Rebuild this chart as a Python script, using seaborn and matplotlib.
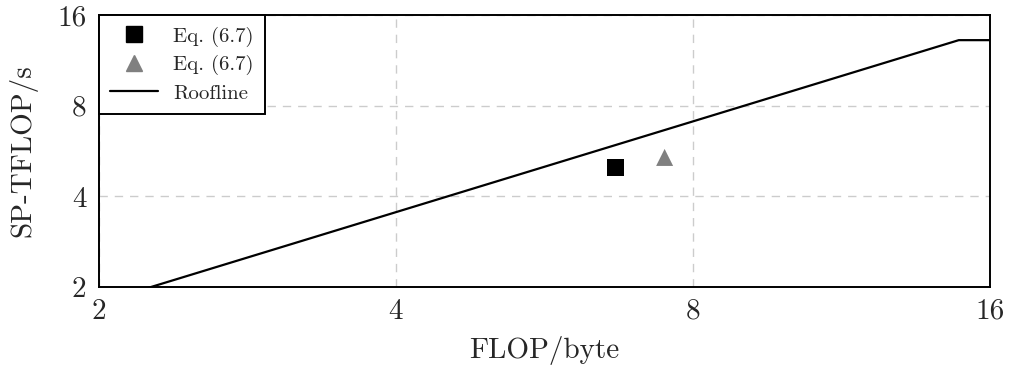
import numpy as np
import pandas as pd
import seaborn as sns
import matplotlib
matplotlib.use("Agg")
import matplotlib.pyplot as plt
from matplotlib.lines import Line2D

# Measured kernel performance (FLOP/byte, SP-TFLOP/s)
square_intensity = [6.68]
square_perf = [4.98]
triangle_intensity = [7.49]
triangle_perf = [5.39]

# Roofline model: memory bandwidth (TB/s) and peak throughput (TFLOP/s)
bandwidth = 0.887
peak = 13.2
roof_x = [2.0, peak / bandwidth, 16.0]

tick_values = [2, 4, 8, 16]
tick_labels = ["2", "4", "8", "16"]

sns.set_theme(style="white")
plt.rcParams["font.family"] = ["cmr10", "DejaVu Serif"]
plt.rcParams["mathtext.fontset"] = "cm"
plt.rcParams["axes.formatter.use_mathtext"] = True

fig, ax = plt.subplots(figsize=(10.09, 3.74), dpi=100)
fig.subplots_adjust(left=0.098, right=0.981, top=0.96, bottom=0.232)

roof = pd.DataFrame({"x": roof_x, "y": [min(peak, bandwidth * v) for v in roof_x]})
sns.lineplot(data=roof, x="x", y="y", ax=ax, color="black", linewidth=1.6,
             zorder=3, label=None, legend=False)

sq = pd.DataFrame({"x": square_intensity, "y": square_perf})
tr = pd.DataFrame({"x": triangle_intensity, "y": triangle_perf})
sns.scatterplot(data=sq, x="x", y="y", ax=ax, marker="s", s=150, color="black",
                edgecolor="none", zorder=4, legend=False)
sns.scatterplot(data=tr, x="x", y="y", ax=ax, marker="^", s=150, color="#808080",
                edgecolor="none", zorder=4, legend=False)

ax.set_xscale("log", base=2)
ax.set_yscale("log", base=2)
ax.set_xlim(2, 16)
ax.set_ylim(2, 16)
ax.set_xticks(tick_values)
ax.set_xticklabels(tick_labels)
ax.set_yticks(tick_values)
ax.set_yticklabels(tick_labels)
ax.minorticks_off()
ax.tick_params(axis="both", length=0, labelsize=21)
ax.tick_params(axis="x", pad=8)
ax.tick_params(axis="y", pad=9)

ax.grid(True, which="major", linestyle=(0, (6, 5)), color="#cccccc", linewidth=1.0)
for s in ax.spines.values():
    s.set_color("black")
    s.set_linewidth(1.4)

ax.set_xlabel("FLOP/byte", fontsize=21, labelpad=8)
ax.set_ylabel("SP-TFLOP/s", fontsize=21, labelpad=14)

handles = [
    Line2D([], [], marker="s", color="black", linestyle="none", markersize=12),
    Line2D([], [], marker="^", color="#808080", linestyle="none", markersize=11),
    Line2D([], [], color="black", linewidth=1.6),
]
leg = ax.legend(handles, ["Eq. (6.7)", "Eq. (6.7)", "Roofline"], loc="upper left",
                bbox_to_anchor=(0, 1), borderaxespad=0, fontsize=15,
                frameon=True, fancybox=False, framealpha=1, edgecolor="black",
                handlelength=2.3, handletextpad=0.7, borderpad=0.55, labelspacing=0.42)
leg.get_frame().set_linewidth(1.4)

fig.savefig("out.png", dpi=100)
